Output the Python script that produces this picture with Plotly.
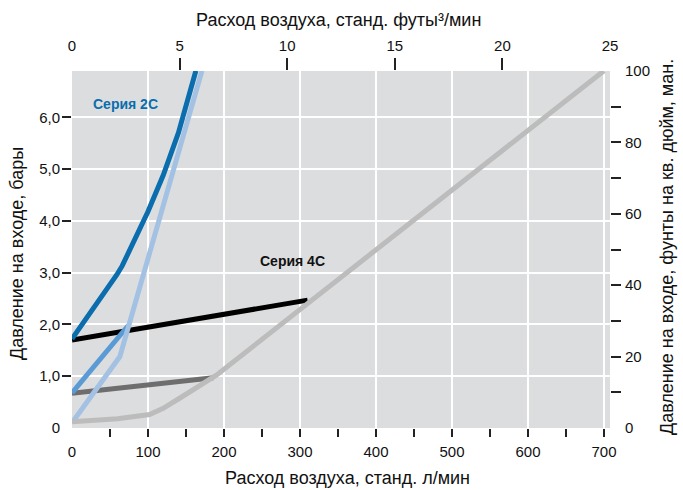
import plotly.graph_objects as go

# ---- data (l/min, bar) ----
LPM_PER_CFM = 28.3168
BAR_PER_PSI = 0.0689476

x_lpm_ticks = [0, 100, 200, 300, 400, 500, 600, 700]
x_lpm_minor = [50, 100, 150, 200, 250, 300, 350, 400, 450, 500, 550, 600, 650, 700]
x_cfm_ticks = [0, 5, 10, 15, 20, 25]
x_cfm_minor = [5, 10, 15, 20]
y_bar_ticks = [0, 1, 2, 3, 4, 5, 6]
y_bar_text = ["0", "1,0", "2,0", "3,0", "4,0", "5,0", "6,0"]
y_bar_minor = [1, 2, 3, 4, 5, 6]
y_psi_ticks = [0, 20, 40, 60, 80, 100]
y_psi_minor = [10, 20, 30, 40, 50, 60, 70, 80, 90]

black_x = [0, 310]
black_y = [1.70, 2.47]

dgray_x = [0, 186]
dgray_y = [0.67, 0.97]

mblue_x = [0, 74]
mblue_y = [0.68, 1.98]

dblue_x = [0, 37, 59, 66, 80, 100, 120, 140, 163]
dblue_y = [1.72, 2.48, 2.96, 3.13, 3.55, 4.18, 4.88, 5.7, 6.9]

lblue_x = [0, 63, 171]
lblue_y = [0.10, 1.38, 6.9]

lgray_x = [0, 60, 102, 120, 140, 165, 190, 700]
lgray_y = [0.12, 0.18, 0.26, 0.38, 0.56, 0.78, 1.02, 6.9]

X_MAX_CFM = 25
Y_MAX_PSI = 100
x_max = X_MAX_CFM * LPM_PER_CFM
y_max = Y_MAX_PSI * BAR_PER_PSI

BG = "#dcdddf"
TICKFONT = dict(family="Liberation Sans, Arial, sans-serif", size=15, color="#111")
TITLEFONT = dict(family="Liberation Sans, Arial, sans-serif", size=18, color="#111")

fig = go.Figure()

series = [
    (black_x, black_y, "#000000"),
    (dgray_x, dgray_y, "#6e6e6e"),
    (mblue_x, mblue_y, "#5b9bd5"),
    (dblue_x, dblue_y, "#0a6dad"),
    (lblue_x, lblue_y, "#a3c2e3"),
    (lgray_x, lgray_y, "#bcbcbc"),
]
for xs, ys, c in series:
    fig.add_trace(go.Scatter(x=xs, y=ys, mode="lines",
                             line=dict(color=c, width=5),
                             showlegend=False, hoverinfo="skip"))

# dummy traces to register helper axes
for xa, ya in [("x2", "y"), ("x3", "y"), ("x4", "y"), ("x", "y2"), ("x", "y3"), ("x", "y4")]:
    fig.add_trace(go.Scatter(x=[None], y=[None], xaxis=xa, yaxis=ya,
                             showlegend=False, hoverinfo="skip"))

fig.update_layout(
    width=683, height=490,
    margin=dict(l=72, r=73, t=71, b=62),
    paper_bgcolor="white",
    plot_bgcolor=BG,
    xaxis=dict(range=[0, x_max], tickmode="array", tickvals=x_lpm_ticks,
               ticks="", showgrid=True, gridcolor="white", gridwidth=1.5,
               zeroline=False, showline=False, tickfont=TICKFONT,
               ticklabelstandoff=13),
    xaxis3=dict(range=[0, x_max], overlaying="x", side="bottom", anchor="y",
                tickmode="array", tickvals=x_lpm_minor, ticks="outside",
                ticklen=8, tickwidth=1.5, tickcolor="#222", showticklabels=False,
                showgrid=False, zeroline=False, showline=False),
    xaxis2=dict(range=[0, X_MAX_CFM], overlaying="x", side="top", anchor="y",
                tickmode="array", tickvals=x_cfm_ticks, ticks="",
                showgrid=False, zeroline=False, showline=False, tickfont=TICKFONT,
                ticklabelstandoff=16),
    xaxis4=dict(range=[0, X_MAX_CFM], overlaying="x", side="top", anchor="y",
                tickmode="array", tickvals=x_cfm_minor, ticks="outside",
                ticklen=12, tickwidth=1.5, tickcolor="#222", showticklabels=False,
                showgrid=False, zeroline=False, showline=False),
    yaxis=dict(range=[0, y_max], tickmode="array", tickvals=y_bar_ticks,
               ticktext=y_bar_text, ticks="", showgrid=True, gridcolor="white",
               gridwidth=1.5, zeroline=False, showline=False, tickfont=TICKFONT,
               ticklabelstandoff=11),
    yaxis3=dict(range=[0, y_max], overlaying="y", side="left", anchor="x",
                tickmode="array", tickvals=y_bar_minor, ticks="outside",
                ticklen=9, tickwidth=1.5, tickcolor="#222", showticklabels=False,
                showgrid=False, zeroline=False, showline=False),
    yaxis2=dict(range=[0, Y_MAX_PSI], overlaying="y", side="right", anchor="x",
                tickmode="array", tickvals=y_psi_ticks, ticks="",
                showgrid=False, zeroline=False, showline=False, tickfont=TICKFONT,
                ticklabelstandoff=14),
    yaxis4=dict(range=[0, Y_MAX_PSI], overlaying="y", side="right", anchor="x",
                tickmode="array", tickvals=y_psi_minor, ticks="outside",
                ticklen=10, tickwidth=1.5, tickcolor="#222", showticklabels=False,
                showgrid=False, zeroline=False, showline=False),
)

def px_x(px):
    return (px - 72) / 538.0

def px_y(py):
    return (428 - py) / 357.0

titles = [
    ("Расход воздуха, станд. футы³/мин", px_x(338), px_y(20), 0),
    ("Расход воздуха, станд. л/мин", px_x(347), px_y(478), 0),
    ("Давление на входе, бары", px_x(17), px_y(254), -90),
    ("Давление на входе, фунты на кв. дюйм, ман.", px_x(667), px_y(247), -90),
]
for text, x, y, ang in titles:
    fig.add_annotation(text=text, xref="paper", yref="paper", x=x, y=y,
                       xanchor="center", yanchor="middle", showarrow=False,
                       textangle=ang, font=TITLEFONT)

fig.add_annotation(text="<b>Серия 2C</b>", x=71, y=6.25, xref="x", yref="y",
                   showarrow=False, font=dict(family="Liberation Sans, Arial, sans-serif",
                                              size=14, color="#0a6dad"))
fig.add_annotation(text="<b>Серия 4C</b>", x=290, y=3.23, xref="x", yref="y",
                   showarrow=False, font=dict(family="Liberation Sans, Arial, sans-serif",
                                              size=14, color="#111"))

fig.write_html("out.html", config={"displayModeBar": False},
               post_script="document.body.style.margin='0';document.body.style.padding='0';")
